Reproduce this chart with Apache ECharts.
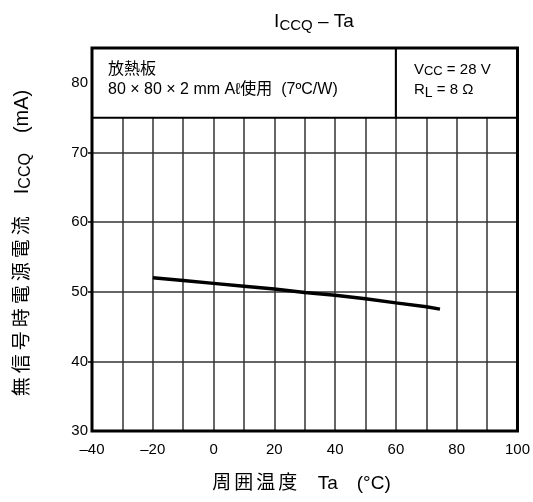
<!DOCTYPE html>
<html><head><meta charset="utf-8">
<script src="https://cdn.jsdelivr.net/npm/echarts@6/dist/echarts.min.js"></script>
<style>html,body{margin:0;padding:0;background:#fff}#c{width:533px;height:502px}</style>
</head><body><div id="c"></div>
<script>
// Data
var tempC = [-20, -10, 0, 10, 20, 30, 40, 50, 60, 70, 74.5];
var iccqMA = [52.0, 51.6, 51.2, 50.8, 50.4, 49.9, 49.5, 49.0, 48.4, 47.85, 47.5];
var xTickLabels = [-40, -20, 0, 20, 40, 60, 80, 100];
var yTickLabels = [30, 40, 50, 60, 70, 80];
var yTicks = [40, 50, 60, 70];

var FONT = "'Liberation Sans', 'Noto Sans CJK JP', sans-serif";
var fmt = function (v) { return v < 0 ? '\u2013' + Math.abs(v) : String(v); };
var spaced = function (s) { return s.split('').map(function (ch) { return '{c|' + ch + '}'; }).join(''); };

var chart = echarts.init(document.getElementById('c'), null, {renderer: 'canvas'});
chart.setOption({
  animation: false,
  backgroundColor: '#fff',
  textStyle: {fontFamily: FONT, color: '#000'},
  title: {
    text: 'I{s|CCQ} \u2013 Ta',
    left: 309, top: 5, textAlign: 'center',
    textStyle: {
      fontFamily: FONT, fontSize: 19, fontWeight: 'normal', color: '#000',
      rich: {s: {fontFamily: FONT, fontSize: 15, color: '#000', padding: [8, 0, 0, 0]}}
    }
  },
  grid: {left: 92, right: 15, top: 48, bottom: 71, show: false},
  xAxis: {
    type: 'value', min: -40, max: 100, interval: 10,
    axisLine: {show: false, onZero: false}, axisTick: {show: false},
    axisLabel: {
      fontFamily: FONT, fontSize: 15, color: '#000', margin: 11,
      formatter: function (v) { return xTickLabels.indexOf(v) >= 0 ? fmt(v) : ''; }
    },
    splitLine: {show: true, lineStyle: {color: '#333', width: 1.5}},
    name: spaced('周囲温度') + '\u3000Ta\u3000(°C)', nameLocation: 'middle', nameGap: 43,
    nameTextStyle: {
      fontFamily: FONT, fontSize: 19, color: '#000', padding: [0, 8, 0, 0],
      rich: {c: {fontFamily: FONT, fontSize: 19, color: '#000', padding: [0, 1.5, 0, 1.5]}}
    }
  },
  yAxis: {
    type: 'value', min: 30, max: 85, interval: 5,
    axisLine: {show: false, onZero: false},
    axisTick: {show: true, customValues: yTicks, length: 4, inside: false, lineStyle: {color: '#000', width: 1.5}},
    axisLabel: {
      fontFamily: FONT, fontSize: 15, color: '#000', margin: 4,
      customValues: yTickLabels,
      formatter: function (v) { return fmt(v); }
    },
    splitLine: {show: true, lineStyle: {color: '#333', width: 1.5}},
    name: spaced('無信号時電源電流') + '\u3000I{s|CCQ}\u3000(mA)', nameLocation: 'middle', nameRotate: 90, nameGap: 58,
    nameTextStyle: {
      fontFamily: FONT, fontSize: 20, color: '#000', padding: [0, 9, 0, 0],
      rich: {
        c: {fontFamily: FONT, fontSize: 19, color: '#000', padding: [0, 2, 0, 2]},
        s: {fontFamily: FONT, fontSize: 16, color: '#000', padding: [7, 0, 0, 0]}
      }
    }
  },
  series: [{
    type: 'line',
    data: tempC.map(function (t, i) { return [t, iccqMA[i]]; }),
    symbol: 'none',
    lineStyle: {color: '#000', width: 3.5},
    z: 5,
    markArea: {
      silent: true,
      data: [
        [{coord: [-40, 75], itemStyle: {color: '#fff', borderColor: '#000', borderWidth: 2},
          label: {
            show: true, position: 'insideTopLeft', distance: 0, padding: [13, 0, 0, 17],
            formatter: '{a|放熱板}\n{a|80 × 80 × 2 mm Aℓ使用  (7ºC/W)}',
            rich: {a: {fontFamily: FONT, fontSize: 16, color: '#000', lineHeight: 20}}
          }},
         {coord: [60, 85]}],
        [{coord: [60, 75], itemStyle: {color: '#fff', borderColor: '#000', borderWidth: 2},
          label: {
            show: true, position: 'insideTopLeft', distance: 0, padding: [13, 0, 0, 19],
            formatter: '{a|V}{b|CC}{a| = 28 V}\n{a|R}{s|L}{a| = 8 Ω}',
            rich: {
              a: {fontFamily: FONT, fontSize: 15, color: '#000', lineHeight: 20},
              b: {fontFamily: FONT, fontSize: 13, color: '#000', lineHeight: 20, padding: [3, 0, 0, 0]},
              s: {fontFamily: FONT, fontSize: 14, color: '#000', lineHeight: 20, padding: [6, 0, 0, 0]}
            }
          }},
         {coord: [100, 85]}],
        [{coord: [-40, 30], itemStyle: {color: 'rgba(0,0,0,0)', borderColor: '#000', borderWidth: 3}},
         {coord: [100, 85]}]
      ]
    }
  }]
});
</script>
</body></html>
